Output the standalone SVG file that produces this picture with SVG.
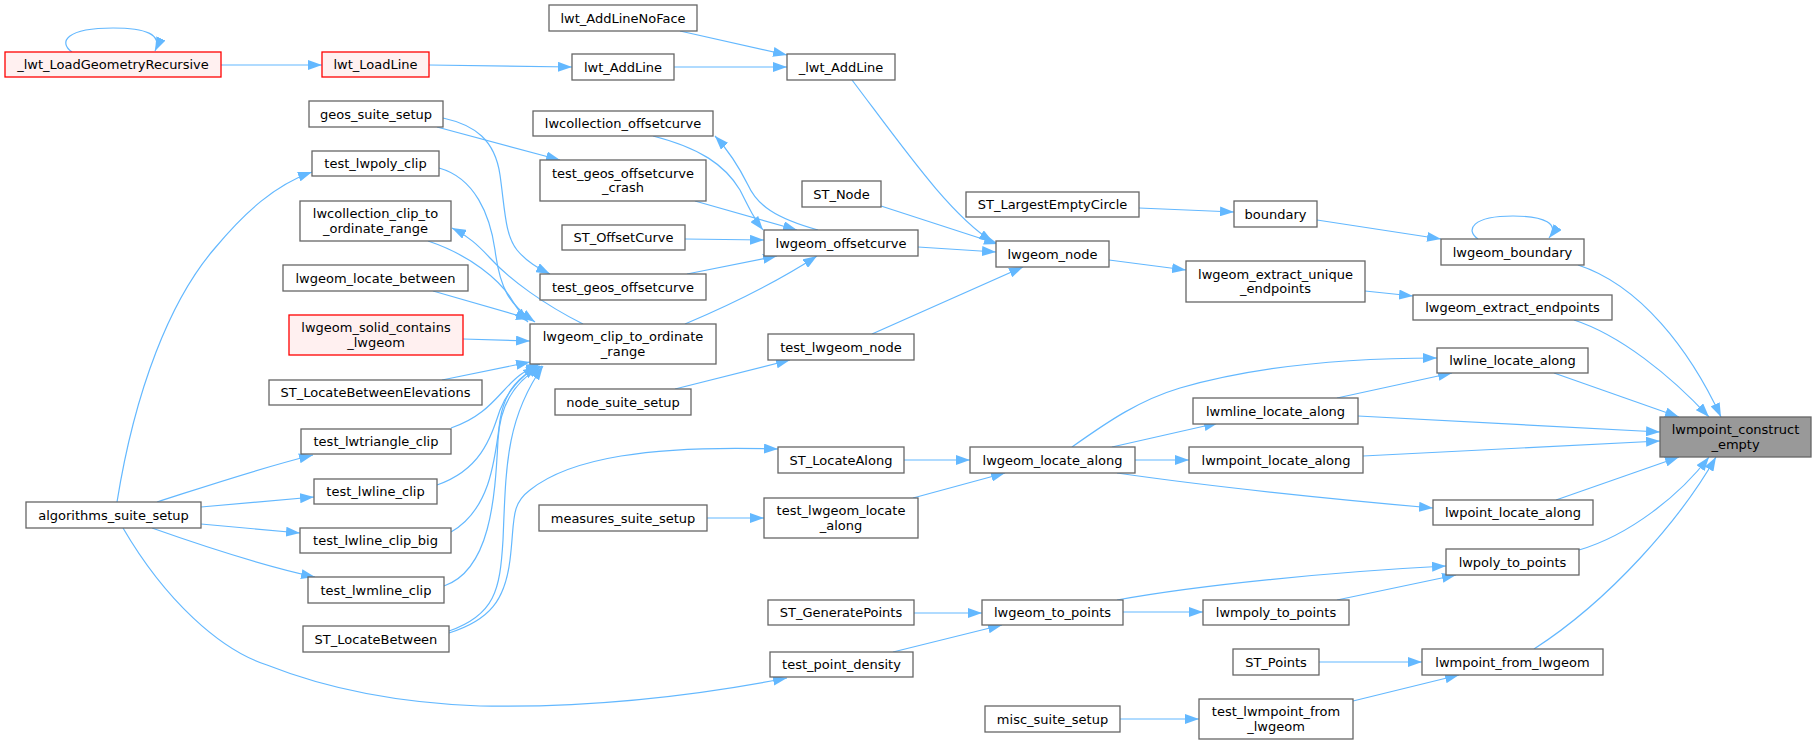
<svg xmlns="http://www.w3.org/2000/svg" width="1816" height="745" viewBox="0 0 1816 745">
<style>
.n rect{fill:#fff;stroke:#666;stroke-width:1.3}
.r rect{fill:#fff0f0;stroke:#ff0000;stroke-width:1.3}
.root rect{fill:#999;stroke:#666;stroke-width:1.3}
text{font-family:"DejaVu Sans",sans-serif;font-size:13px;fill:#000;text-anchor:middle}
#edges path{fill:none;stroke:#63b8ff;stroke-width:1.2;marker-end:url(#a)}
</style>
<defs>
<marker id="a" viewBox="0 0 14 10" refX="14" refY="5" markerWidth="14" markerHeight="10" orient="auto" markerUnits="userSpaceOnUse"><path d="M0,0 L14,5 L0,10 z" fill="#63b8ff"/></marker>
</defs>
<rect width="1816" height="745" fill="#fff"/>
<g id="edges">
<path d="M72,52 C58,42 66,28 113,28 C145,28 163,34 155,51"/>
<path d="M221,65 L322,65"/>
<path d="M429,65 L572,67"/>
<path d="M674,67 L787,67"/>
<path d="M680,31 L787,55"/>
<path d="M852,80 C905,150 950,215 993,242"/>
<path d="M881,206 L998,244"/>
<path d="M918,247 L996,252"/>
<path d="M872,334 L1023,267"/>
<path d="M1109,260 L1186,270"/>
<path d="M1139,208 L1234,212"/>
<path d="M1317,220 L1441,239"/>
<path d="M1478,239 C1465,230 1472,216 1513,216 C1545,216 1560,224 1549,238"/>
<path d="M1365,291 L1413,296"/>
<path d="M1578,265 C1640,285 1690,350 1721,417"/>
<path d="M1574,320 C1620,335 1670,375 1709,417"/>
<path d="M1554,373 L1679,417"/>
<path d="M1358,416 L1660,432"/>
<path d="M1363,456 L1660,441"/>
<path d="M1556,500 L1679,457"/>
<path d="M1579,550 C1630,535 1680,495 1709,457"/>
<path d="M1534,649 C1610,600 1680,520 1716,457"/>
<path d="M1072,447 C1110,420 1140,400 1180,388 C1260,365 1350,358 1437,358"/>
<path d="M1337,398 L1452,373"/>
<path d="M1112,447 L1218,423"/>
<path d="M1135,460 L1189,460"/>
<path d="M1117,473 C1200,485 1320,498 1433,508"/>
<path d="M904,460 L970,460"/>
<path d="M913,498 L1005,473"/>
<path d="M707,518 L764,518"/>
<path d="M449,633 C490,620 505,600 510,560 C515,520 510,505 530,490 C570,458 650,445 778,449"/>
<path d="M117,502 C135,390 170,300 215,248 C245,212 275,185 312,172"/>
<path d="M157,502 C210,485 260,468 313,455"/>
<path d="M201,507 L314,497"/>
<path d="M201,524 L300,533"/>
<path d="M152,528 C200,545 260,565 315,577"/>
<path d="M123,528 C165,600 220,650 267,665 C330,690 400,703 480,706 C600,708 700,695 787,678"/>
<path d="M439,168 C475,178 490,215 495,250 C500,290 510,305 535,322"/>
<path d="M583,324 C545,305 510,280 490,258 C478,245 468,236 452,228"/>
<path d="M428,241 C470,255 500,280 512,300 C518,310 522,316 528,322"/>
<path d="M433,291 L530,319"/>
<path d="M463,339 L530,341"/>
<path d="M442,380 C480,372 505,367 530,362"/>
<path d="M451,428 C490,415 500,390 520,375 C528,369 535,366 540,364"/>
<path d="M437,485 C480,470 490,440 500,410 C508,390 520,378 537,366"/>
<path d="M451,532 C490,510 495,460 500,420 C505,390 520,375 540,366"/>
<path d="M444,586 C490,570 495,500 498,440 C500,400 520,378 542,366"/>
<path d="M449,631 C495,615 500,590 503,540 C506,470 505,420 543,366"/>
<path d="M685,324 C730,305 780,280 817,256"/>
<path d="M687,274 L777,256"/>
<path d="M685,239 L764,240"/>
<path d="M695,201 L797,230"/>
<path d="M653,136 C700,148 725,165 740,190 C750,210 755,220 763,230"/>
<path d="M818,230 C775,218 757,205 748,185 C738,165 728,150 715,136"/>
<path d="M437,127 L560,160"/>
<path d="M443,118 C475,125 495,140 500,175 C505,210 505,235 517,250 C527,262 538,268 550,274"/>
<path d="M675,389 L790,360"/>
<path d="M914,613 L982,613"/>
<path d="M893,652 L1002,625"/>
<path d="M1123,612 L1203,612"/>
<path d="M1117,600 C1200,585 1330,572 1446,566"/>
<path d="M1337,600 L1456,575"/>
<path d="M1319,662 L1422,662"/>
<path d="M1353,701 L1459,675"/>
<path d="M1120,719 L1199,719"/>
</g>
<g id="n_lwt_LoadGeometryRecursive" class="r"><rect x="5" y="52" width="216" height="25"/><text x="113" y="69">_lwt_LoadGeometryRecursive</text></g>
<g id="n_lwt_LoadLine" class="r"><rect x="322" y="52" width="107" height="25"/><text x="375.5" y="69">lwt_LoadLine</text></g>
<g id="n_lwt_AddLineNoFace" class="n"><rect x="549" y="5" width="148" height="26"/><text x="623" y="22.5">lwt_AddLineNoFace</text></g>
<g id="n_lwt_AddLine" class="n"><rect x="572" y="54" width="102" height="26"/><text x="623" y="71.5">lwt_AddLine</text></g>
<g id="n__lwt_AddLine" class="n"><rect x="787" y="54" width="108" height="26"/><text x="841" y="71.5">_lwt_AddLine</text></g>
<g id="n_geos_suite_setup" class="n"><rect x="309" y="101" width="134" height="26"/><text x="376" y="118.5">geos_suite_setup</text></g>
<g id="n_lwcollection_offsetcurve" class="n"><rect x="533" y="111" width="180" height="25"/><text x="623" y="128">lwcollection_offsetcurve</text></g>
<g id="n_test_lwpoly_clip" class="n"><rect x="312" y="151" width="127" height="25"/><text x="375.5" y="168">test_lwpoly_clip</text></g>
<g id="n_test_geos_offsetcurve_crash" class="n"><rect x="540" y="160" width="166" height="41"/><text x="623" y="177.5">test_geos_offsetcurve</text><text x="623" y="192">_crash</text></g>
<g id="n_ST_Node" class="n"><rect x="802" y="181" width="79" height="26"/><text x="841.5" y="198.5">ST_Node</text></g>
<g id="n_ST_LargestEmptyCircle" class="n"><rect x="966" y="192" width="173" height="25"/><text x="1052.5" y="209">ST_LargestEmptyCircle</text></g>
<g id="n_boundary" class="n"><rect x="1234" y="201" width="83" height="26"/><text x="1275.5" y="218.5">boundary</text></g>
<g id="n_lwcollection_clip_to_ordinate_range" class="n"><rect x="300" y="201" width="151" height="40"/><text x="375.5" y="218">lwcollection_clip_to</text><text x="375.5" y="232.5">_ordinate_range</text></g>
<g id="n_ST_OffsetCurve" class="n"><rect x="562" y="225" width="123" height="25"/><text x="623.5" y="242">ST_OffsetCurve</text></g>
<g id="n_lwgeom_offsetcurve" class="n"><rect x="764" y="230" width="154" height="26"/><text x="841" y="247.5">lwgeom_offsetcurve</text></g>
<g id="n_lwgeom_boundary" class="n"><rect x="1441" y="239" width="143" height="26"/><text x="1512.5" y="256.5">lwgeom_boundary</text></g>
<g id="n_lwgeom_node" class="n"><rect x="996" y="241" width="113" height="26"/><text x="1052.5" y="258.5">lwgeom_node</text></g>
<g id="n_lwgeom_extract_unique_endpoints" class="n"><rect x="1186" y="261" width="179" height="41"/><text x="1275.5" y="278.5">lwgeom_extract_unique</text><text x="1275.5" y="293">_endpoints</text></g>
<g id="n_lwgeom_locate_between" class="n"><rect x="283" y="265" width="185" height="26"/><text x="375.5" y="282.5">lwgeom_locate_between</text></g>
<g id="n_test_geos_offsetcurve" class="n"><rect x="540" y="274" width="166" height="26"/><text x="623" y="291.5">test_geos_offsetcurve</text></g>
<g id="n_lwgeom_extract_endpoints" class="n"><rect x="1413" y="295" width="199" height="25"/><text x="1512.5" y="312">lwgeom_extract_endpoints</text></g>
<g id="n_lwgeom_solid_contains_lwgeom" class="r"><rect x="289" y="315" width="174" height="40"/><text x="376" y="332">lwgeom_solid_contains</text><text x="376" y="346.5">_lwgeom</text></g>
<g id="n_lwgeom_clip_to_ordinate_range" class="n"><rect x="530" y="324" width="186" height="40"/><text x="623" y="341">lwgeom_clip_to_ordinate</text><text x="623" y="355.5">_range</text></g>
<g id="n_test_lwgeom_node" class="n"><rect x="768" y="334" width="146" height="26"/><text x="841" y="351.5">test_lwgeom_node</text></g>
<g id="n_lwline_locate_along" class="n"><rect x="1437" y="348" width="151" height="25"/><text x="1512.5" y="365">lwline_locate_along</text></g>
<g id="n_ST_LocateBetweenElevations" class="n"><rect x="269" y="380" width="213" height="25"/><text x="375.5" y="397">ST_LocateBetweenElevations</text></g>
<g id="n_node_suite_setup" class="n"><rect x="555" y="389" width="136" height="26"/><text x="623" y="406.5">node_suite_setup</text></g>
<g id="n_lwmline_locate_along" class="n"><rect x="1193" y="398" width="165" height="26"/><text x="1275.5" y="415.5">lwmline_locate_along</text></g>
<g id="n_lwmpoint_construct_empty" class="root"><rect x="1660" y="417" width="151" height="40"/><text x="1735.5" y="434">lwmpoint_construct</text><text x="1735.5" y="448.5">_empty</text></g>
<g id="n_test_lwtriangle_clip" class="n"><rect x="301" y="429" width="150" height="25"/><text x="376" y="446">test_lwtriangle_clip</text></g>
<g id="n_ST_LocateAlong" class="n"><rect x="778" y="447" width="126" height="26"/><text x="841" y="464.5">ST_LocateAlong</text></g>
<g id="n_lwgeom_locate_along" class="n"><rect x="970" y="447" width="165" height="26"/><text x="1052.5" y="464.5">lwgeom_locate_along</text></g>
<g id="n_lwmpoint_locate_along" class="n"><rect x="1189" y="447" width="174" height="26"/><text x="1276" y="464.5">lwmpoint_locate_along</text></g>
<g id="n_test_lwline_clip" class="n"><rect x="314" y="479" width="123" height="25"/><text x="375.5" y="496">test_lwline_clip</text></g>
<g id="n_test_lwgeom_locate_along" class="n"><rect x="764" y="498" width="154" height="40"/><text x="841" y="515">test_lwgeom_locate</text><text x="841" y="529.5">_along</text></g>
<g id="n_lwpoint_locate_along" class="n"><rect x="1433" y="500" width="160" height="25"/><text x="1513" y="517">lwpoint_locate_along</text></g>
<g id="n_algorithms_suite_setup" class="n"><rect x="26" y="502" width="175" height="26"/><text x="113.5" y="519.5">algorithms_suite_setup</text></g>
<g id="n_measures_suite_setup" class="n"><rect x="539" y="505" width="168" height="26"/><text x="623" y="522.5">measures_suite_setup</text></g>
<g id="n_test_lwline_clip_big" class="n"><rect x="300" y="528" width="151" height="25"/><text x="375.5" y="545">test_lwline_clip_big</text></g>
<g id="n_lwpoly_to_points" class="n"><rect x="1446" y="549" width="133" height="26"/><text x="1512.5" y="566.5">lwpoly_to_points</text></g>
<g id="n_test_lwmline_clip" class="n"><rect x="308" y="577" width="136" height="26"/><text x="376" y="594.5">test_lwmline_clip</text></g>
<g id="n_ST_GeneratePoints" class="n"><rect x="768" y="600" width="146" height="25"/><text x="841" y="617">ST_GeneratePoints</text></g>
<g id="n_lwgeom_to_points" class="n"><rect x="982" y="600" width="141" height="25"/><text x="1052.5" y="617">lwgeom_to_points</text></g>
<g id="n_lwmpoly_to_points" class="n"><rect x="1203" y="600" width="146" height="25"/><text x="1276" y="617">lwmpoly_to_points</text></g>
<g id="n_ST_LocateBetween" class="n"><rect x="303" y="626" width="146" height="26"/><text x="376" y="643.5">ST_LocateBetween</text></g>
<g id="n_ST_Points" class="n"><rect x="1233" y="649" width="86" height="26"/><text x="1276" y="666.5">ST_Points</text></g>
<g id="n_lwmpoint_from_lwgeom" class="n"><rect x="1422" y="649" width="181" height="26"/><text x="1512.5" y="666.5">lwmpoint_from_lwgeom</text></g>
<g id="n_test_point_density" class="n"><rect x="770" y="652" width="143" height="25"/><text x="841.5" y="669">test_point_density</text></g>
<g id="n_misc_suite_setup" class="n"><rect x="985" y="706" width="135" height="26"/><text x="1052.5" y="723.5">misc_suite_setup</text></g>
<g id="n_test_lwmpoint_from_lwgeom" class="n"><rect x="1199" y="699" width="154" height="40"/><text x="1276" y="716">test_lwmpoint_from</text><text x="1276" y="730.5">_lwgeom</text></g>
</svg>
